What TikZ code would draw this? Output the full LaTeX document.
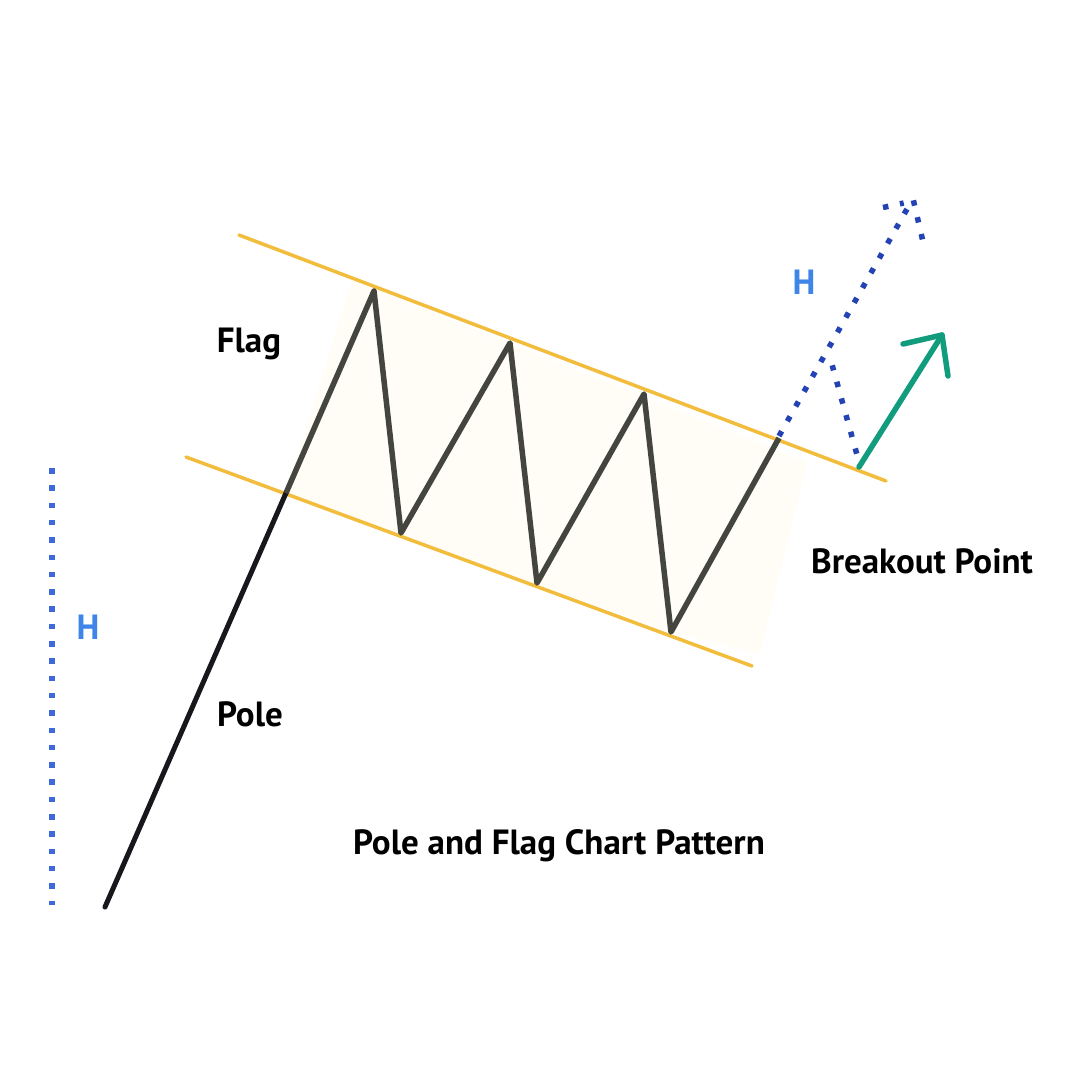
\documentclass[tikz,border=0pt]{standalone}
\usepackage{fontspec}
\setmainfont{PT Sans}
\usetikzlibrary{calc}

\definecolor{flagline}{HTML}{F2BC3C}
\definecolor{flagfill}{HTML}{FFFDF5}
\definecolor{zigzag}{HTML}{45453F}
\definecolor{polecol}{HTML}{16181C}
\definecolor{heightblue}{HTML}{3F68DC}
\definecolor{targetblue}{HTML}{2342B4}
\definecolor{letterblue}{HTML}{3F85E8}
\definecolor{upgreen}{HTML}{129C7E}

\tikzset{
	textlabel/.style={font=\fontsize{35}{38}\selectfont\bfseries, text=black, inner sep=0pt},
	hlabel/.style={font=\fontsize{35}{38}\selectfont\bfseries, text=letterblue, inner sep=0pt},
	channel/.style={draw=flagline, line width=3.5pt, line cap=round},
	dotline/.style={line width=5.5pt, dash pattern=on 5.5pt off 11.8pt},
	upline/.style={upgreen, line width=5.5pt, line cap=round, line join=round}
}

\begin{document}
\begin{tikzpicture}[x=1pt, y=-1pt]
		\useasboundingbox (0, 0) rectangle (1080, 1080);

		\path (239, 235) coordinate (topl)
			(886, 481) coordinate (topr)
			(186, 457) coordinate (botl)
			(752, 666) coordinate (botr)
			(105, 907) coordinate (base)
			(286, 493) coordinate (join)
			(374, 291) coordinate (p1)
			(401, 533) coordinate (t1)
			(510, 343) coordinate (p2)
			(537, 583) coordinate (t2)
			(644, 394) coordinate (p3)
			(671, 632) coordinate (t3)
			(779, 438) coordinate (brk)
			(779, 436) coordinate (brkdot)
			(907, 209) coordinate (target)
			(832.2, 365.3) coordinate (fork)
			(856.7, 453.7) coordinate (forkend)
			(883, 207.5) coordinate (headl)
			(903.7, 203) coordinate (headc)
			(913.4, 200.3) coordinate (headm)
			(922.6, 240) coordinate (headr)
			(859, 467) coordinate (up)
			(942, 335) coordinate (uptip)
			(903, 344) coordinate (upl)
			(948, 376) coordinate (upr)
			(52, 468) coordinate (hl)
			(52, 905) coordinate (hr);

		\fill[flagfill] (join) -- (352, 280) -- (807, 462) -- (760, 654) -- (t3) -- cycle;

		\draw[channel] (topl) -- (topr);
		\draw[channel] (botl) -- (botr);

		\draw[polecol, line width=5pt, line cap=round] (base) -- (join);
		\draw[zigzag, line width=5.5pt, line join=round] (join) -- (p1) -- (t1) -- (p2) -- (t2) -- (p3) -- (t3) -- (brk);

		\draw[dotline, heightblue] (hl) -- (hr);
		\draw[dotline, targetblue, dash pattern=on 5.5pt off 11.5pt] (brkdot) -- (target);
		\draw[dotline, targetblue] (forkend) -- (fork);
		\draw[dotline, targetblue] (headl) -- (headc);
		\draw[dotline, targetblue] (headm) -- (headr);

		\draw[upline] (up) -- (uptip);
		\draw[upline] (upl) -- (uptip) -- (upr);

		\path (249, 344) node[textlabel] (flag) {Flag}
			(250, 714) node[textlabel] (pole) {Pole}
			(922, 561) node[textlabel] (breakout) {Breakout Point}
			(559, 846) node[textlabel] (title) {Pole and Flag Chart Pattern}
			(88, 627) node[hlabel] (hleft) {H}
			(804, 282) node[hlabel] (hright) {H};
	\end{tikzpicture}
\end{document}
